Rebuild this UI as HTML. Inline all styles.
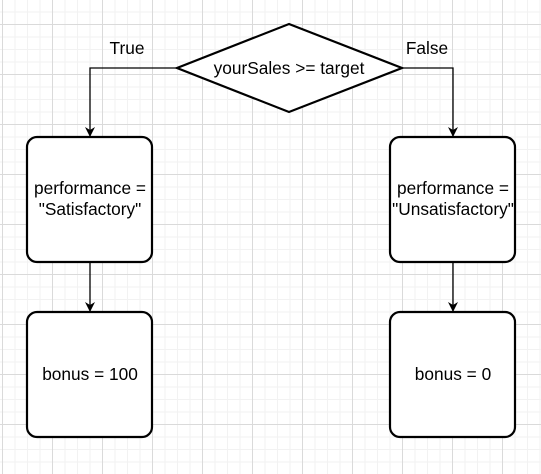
<!DOCTYPE html>
<html><head><style>
html,body{margin:0;padding:0;background:#fff;}
svg{display:block;}
text{font-family:"Liberation Sans",Arial,sans-serif;font-size:17.3px;fill:#000;}
</style></head><body>
<svg width="541" height="474" viewBox="0 0 541 474" xmlns="http://www.w3.org/2000/svg">
<defs>
<pattern id="minor" width="12.5" height="12.5" patternUnits="userSpaceOnUse" x="2" y="24">
<path d="M0 0.5H12.5M0.5 0V12.5" stroke="#f2f2f2" stroke-width="1" fill="none"/>
</pattern>
<pattern id="major" width="50" height="50" patternUnits="userSpaceOnUse" x="2" y="24">
<path d="M0 0.5H50M0.5 0V50" stroke="#dadada" stroke-width="1" fill="none"/>
</pattern>
<marker id="ar" markerWidth="10" markerHeight="10" refX="9" refY="5" orient="auto" markerUnits="userSpaceOnUse">
<path d="M0,0 L10,5 L0,10 L3,5 Z" fill="#000"/>
</marker>
</defs>
<rect width="541" height="474" fill="url(#minor)"/>
<rect width="541" height="474" fill="url(#major)"/>
<g stroke="#000" stroke-width="1.3" fill="none">
<path d="M177 68 H90 V136" marker-end="url(#ar)"/>
<path d="M402 68 H453 V136" marker-end="url(#ar)"/>
<path d="M90 262 V311" marker-end="url(#ar)"/>
<path d="M453 262 V311" marker-end="url(#ar)"/>
</g>
<g stroke="#000" stroke-width="2.2" fill="#fff">
<polygon points="289,24 402,68 289,112 177,68"/>
<rect x="27" y="137" width="125" height="125" rx="10"/>
<rect x="390" y="137" width="125" height="125" rx="10"/>
<rect x="27" y="312" width="125" height="125" rx="10"/>
<rect x="390" y="312" width="125" height="125" rx="10"/>
</g>
<text x="289" y="74" text-anchor="middle">yourSales &gt;= target</text>
<text x="127" y="54" text-anchor="middle">True</text>
<text x="427" y="54" text-anchor="middle">False</text>
<text x="90" y="194" text-anchor="middle">performance =</text>
<text x="90" y="215" text-anchor="middle">"Satisfactory"</text>
<text x="453" y="194" text-anchor="middle">performance =</text>
<text x="453" y="215" text-anchor="middle">"Unsatisfactory"</text>
<text x="90" y="380" text-anchor="middle">bonus = 100</text>
<text x="453" y="380" text-anchor="middle">bonus = 0</text>
</svg>
</body></html>
